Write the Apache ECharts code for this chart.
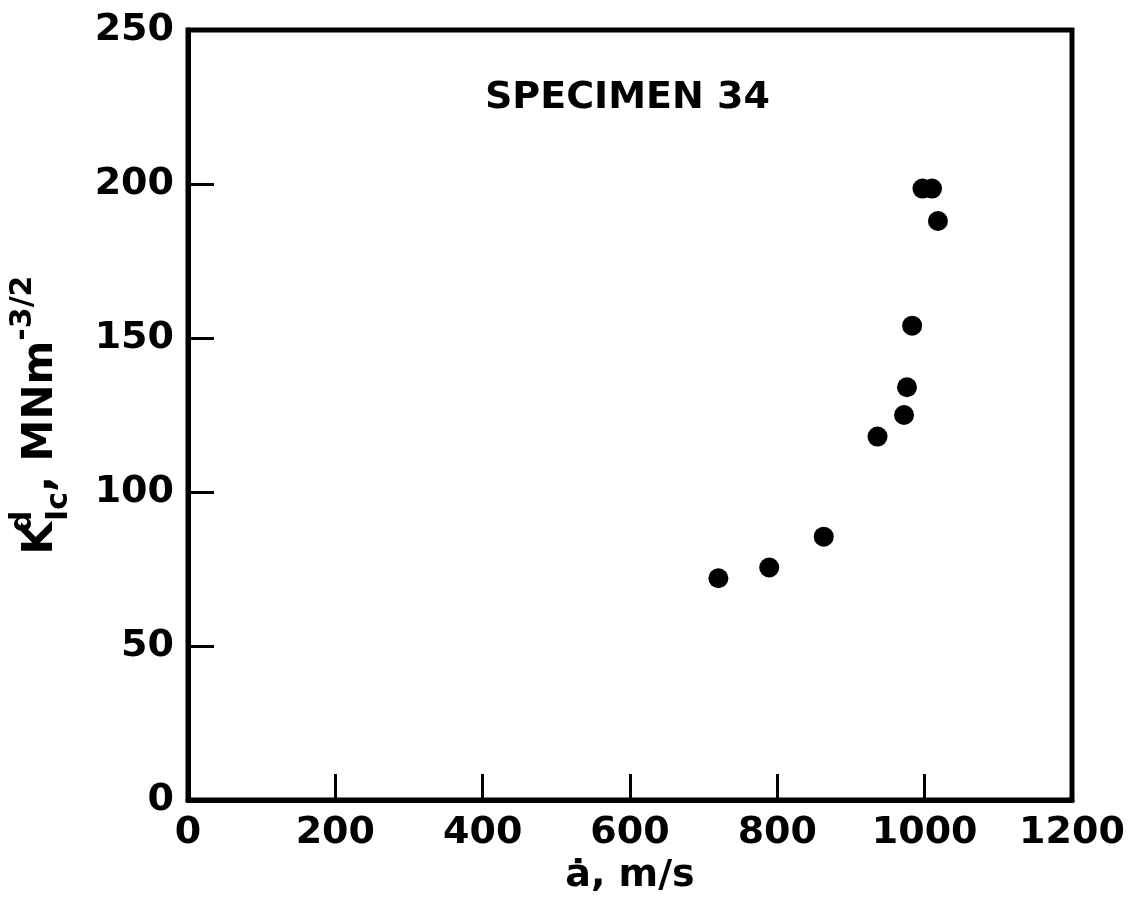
<!DOCTYPE html>
<html>
<head>
<meta charset="utf-8">
<script src="https://cdn.jsdelivr.net/npm/echarts@6/dist/echarts.min.js"></script>
<style>
  html,body{margin:0;padding:0;background:#fff;}
  #main{width:1131px;height:915px;}
</style>
</head>
<body>
<div id="main"></div>
<script>
// crack speed (m/s) and dynamic toughness (MNm^-3/2)
const speed = [720, 789, 863, 936, 972, 976, 983, 997, 1010, 1018];
const toughness = [72, 75.5, 85.5, 118, 125, 134, 154, 198.5, 198.5, 188];
const xTicks = [0, 200, 400, 600, 800, 1000, 1200];
const yTicks = [0, 50, 100, 150, 200, 250];

const font = 'DejaVu Sans';
const chart = echarts.init(document.getElementById('main'));

const points = speed.map((v, i) => [v, toughness[i]]);

const option = {
  backgroundColor: '#fff',
  animation: false,
  title: {
    text: 'SPECIMEN 34',
    left: 480,
    top: 74,
    textStyle: { fontFamily: font, fontSize: 38, fontWeight: 'bold', color: '#000' }
  },
  grid: {
    left: 188, right: 59, top: 30, bottom: 115,
    show: true, borderColor: '#000', borderWidth: 5
  },
  xAxis: {
    type: 'value',
    min: xTicks[0], max: xTicks[xTicks.length - 1], interval: 200,
    name: 'ȧ, m/s',
    nameLocation: 'middle',
    nameGap: 54,
    nameTextStyle: { fontFamily: font, fontSize: 38, fontWeight: 'bold', color: '#000' },
    axisLine: { show: true, lineStyle: { color: '#000', width: 5 } },
    axisTick: { show: true, inside: true, length: 26, lineStyle: { color: '#000', width: 3 } },
    axisLabel: {
      fontFamily: font, fontSize: 38, fontWeight: 'bold', color: '#000', margin: 14,
      formatter: v => String(v)
    },
    splitLine: { show: false }
  },
  yAxis: {
    type: 'value',
    min: yTicks[0], max: yTicks[yTicks.length - 1], interval: 50,
    name: '{m|K}{sup|d}{sub|Ic}{m|, MNm}{sup2|-3/2}',
    nameLocation: 'middle',
    nameGap: 114,
    nameTextStyle: {
      fontFamily: font, fontSize: 42, fontWeight: 'bold', color: '#000',
      rich: {
        m: { fontFamily: font, fontSize: 42, fontWeight: 'bold', color: '#000', lineHeight: 66, verticalAlign: 'middle' },
        sup: { fontFamily: font, fontSize: 30, fontWeight: 'bold', color: '#000', width: 1, verticalAlign: 'top', lineHeight: 66 },
        sub: { fontFamily: font, fontSize: 30, fontWeight: 'bold', color: '#000', verticalAlign: 'bottom', lineHeight: 66 },
        sup2: { fontFamily: font, fontSize: 30, fontWeight: 'bold', color: '#000', verticalAlign: 'top', lineHeight: 66 }
      }
    },
    axisLine: { show: true, lineStyle: { color: '#000', width: 5 } },
    axisTick: { show: true, inside: true, length: 26, lineStyle: { color: '#000', width: 3 } },
    axisLabel: { fontFamily: font, fontSize: 38, fontWeight: 'bold', color: '#000', margin: 14 },
    splitLine: { show: false }
  },
  series: [
    {
      type: 'scatter',
      data: points,
      symbol: 'circle',
      symbolSize: 20,
      itemStyle: { color: '#000', opacity: 1 }
    }
  ]
};

chart.setOption(option);
</script>
</body>
</html>
